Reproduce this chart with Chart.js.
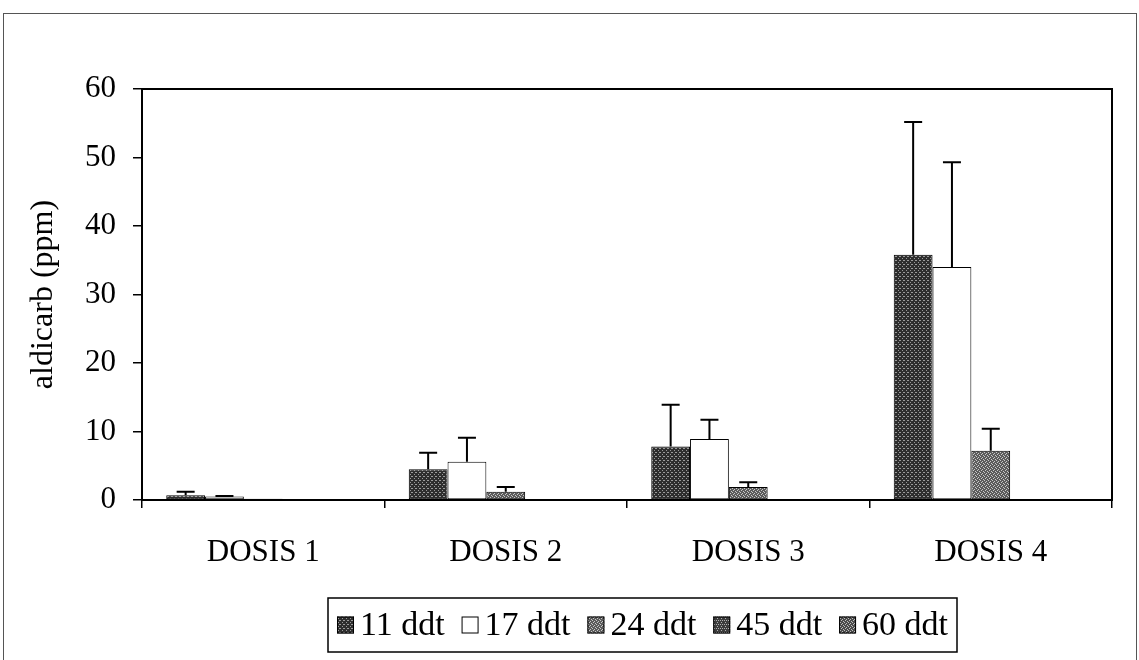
<!DOCTYPE html>
<html>
<head>
<meta charset="utf-8">
<script src="https://cdn.jsdelivr.net/npm/chart.js@4/dist/chart.umd.min.js"></script>
<style>
  html, body { margin: 0; padding: 0; background: #fff; }
  #wrap { width: 1139px; height: 660px; }
</style>
</head>
<body>
<div id="wrap"><canvas id="aldicarbChart" width="1139" height="660"></canvas></div>
<script>
// aldicarb residues per dose, by days after treatment (ddt)
const categories = ['DOSIS 1', 'DOSIS 2', 'DOSIS 3', 'DOSIS 4'];
const seriesNames = ['11 ddt', '17 ddt', '24 ddt', '45 ddt', '60 ddt'];

const ddt11 = [0.7, 4.5, 7.8, 35.8];
const ddt17 = [0.5, 5.6, 8.9, 34.0];
const ddt24 = [0.2, 1.2, 1.9, 7.2];
const ddt45 = [0.05, 0, 0, 0.1];
const ddt60 = [0, 0, 0, 0];

// upper error (value + sd shown as T on top)
const err11 = [0.5, 2.4, 6.1, 19.4];
const err17 = [0.1, 3.5, 2.8, 15.3];
const err24 = [0, 0.7, 0.7, 3.2];
const err45 = [0, 0, 0, 0];
const err60 = [0, 0, 0, 0];

const yTicks = [0, 10, 20, 30, 40, 50, 60];

const serif = "'Liberation Serif', 'Times New Roman', serif";

// small stipple tiles to look like the printed textures
function stipple(base, dot, dots) {
    const c = document.createElement('canvas');
    c.width = 4; c.height = 4;
    const g = c.getContext('2d');
    g.fillStyle = base;
    g.fillRect(0, 0, 4, 4);
    g.fillStyle = dot;
    dots.forEach(p => g.fillRect(p[0], p[1], 1, 1));
    return g.createPattern(c, 'repeat');
}

const fills = [
    stipple('#2e2e2e', '#9a9a9a', [[0, 0], [2, 2], [3, 0]]),
    '#ffffff',
    stipple('#5c5c5c', '#c8c8c8', [[0, 0], [2, 1], [1, 2], [3, 3]]),
    stipple('#3c3c3c', '#b0b0b0', [[0, 0], [2, 0], [1, 2]]),
    stipple('#4a4a4a', '#bdbdbd', [[1, 0], [3, 1], [0, 2], [2, 3]])
];

const values = [ddt11, ddt17, ddt24, ddt45, ddt60];
const errors = [err11, err17, err24, err45, err60];

// outer frame + white background
const framePlugin = {
    id: 'frame',
    beforeDraw(chart) {
        const ctx = chart.ctx;
        ctx.save();
        ctx.fillStyle = '#fff';
        ctx.fillRect(0, 0, chart.width, chart.height);
        ctx.strokeStyle = '#555';
        ctx.lineWidth = 1;
        ctx.strokeRect(3.5, 13.5, 1133, 700);
        ctx.restore();
    },
    afterDraw(chart) {
        // box around plot area
        const a = chart.chartArea;
        const ctx = chart.ctx;
        ctx.save();
        ctx.strokeStyle = '#000';
        ctx.lineWidth = 2;
        ctx.strokeRect(a.left, a.top, a.right - a.left, a.bottom - a.top);
        ctx.restore();
    }
};

// error bars drawn from the value up to value + err
const errorBarPlugin = {
    id: 'errorBars',
    afterDatasetsDraw(chart) {
        const ctx = chart.ctx;
        const y = chart.scales.y;
        ctx.save();
        ctx.strokeStyle = '#000';
        ctx.lineWidth = 2;
        chart.data.datasets.forEach((ds, i) => {
            const meta = chart.getDatasetMeta(i);
            meta.data.forEach((bar, j) => {
                const e = ds.errUp[j];
                if (!e) return;
                const top = y.getPixelForValue(ds.data[j] + e);
                ctx.beginPath();
                ctx.moveTo(bar.x, bar.y);
                ctx.lineTo(bar.x, top);
                ctx.moveTo(bar.x - 9, top);
                ctx.lineTo(bar.x + 9, top);
                ctx.stroke();
            });
        });
        ctx.restore();
    }
};

// boxed legend under the axis
const legendPlugin = {
    id: 'boxLegend',
    afterDraw(chart) {
        const ctx = chart.ctx;
        ctx.save();
        ctx.font = '34px ' + serif;
        ctx.textBaseline = 'middle';
        const mark = 17, gapIn = 6, pad = 9;
        const left = 328, right = 957, top = 598, h = 54;
        const widths = chart.data.datasets.map(ds => ctx.measureText(ds.label).width);
        let used = pad * 2;
        widths.forEach(w => { used += mark + gapIn + w; });
        const gapOut = (right - left - used) / (widths.length - 1);
        ctx.strokeStyle = '#000';
        ctx.lineWidth = 1.5;
        ctx.strokeRect(left, top, right - left, h);
        let x = left + pad;
        const mid = top + h / 2;
        chart.data.datasets.forEach((ds, i) => {
            ctx.fillStyle = ds.backgroundColor;
            ctx.fillRect(x, mid - mark / 2, mark, mark);
            ctx.lineWidth = 1;
            ctx.strokeRect(x + 0.5, mid - mark / 2 + 0.5, mark - 1, mark - 1);
            x += mark + gapIn;
            ctx.fillStyle = '#000';
            ctx.fillText(ds.label, x, mid + 1);
            x += widths[i] + gapOut;
        });
        ctx.restore();
    }
};

const ctx = document.getElementById('aldicarbChart').getContext('2d');
const aldicarbChart = new Chart(ctx, {
    type: 'bar',
    data: {
        labels: categories,
        datasets: seriesNames.map((name, i) => ({
            label: name,
            data: values[i],
            errUp: errors[i],
            backgroundColor: fills[i],
            borderColor: '#000',
            borderWidth: 1,
            borderSkipped: false,
            categoryPercentage: 0.8,
            barPercentage: 1.0
        }))
    },
    options: {
        responsive: false,
        animation: false,
        devicePixelRatio: 1,
        layout: { padding: { left: 0, top: 89, right: 27, bottom: 0 } },
        plugins: {
            legend: { display: false },
            tooltip: { enabled: false }
        },
        scales: {
            x: {
                offset: true,
                grid: {
                    offset: true,
                    drawOnChartArea: false,
                    tickLength: 8,
                    color: '#000',
                    lineWidth: 1.5
                },
                border: { display: true, color: '#000', width: 2 },
                ticks: {
                    color: '#000',
                    font: { family: serif, size: 31 },
                    padding: 26
                },
                afterFit(scale) { scale.height = 160; }
            },
            y: {
                min: 0,
                max: 60,
                afterBuildTicks(scale) { scale.ticks = yTicks.map(v => ({ value: v })); },
                grid: {
                    drawOnChartArea: false,
                    tickLength: 9,
                    color: '#000',
                    lineWidth: 1.5
                },
                border: { display: true, color: '#000', width: 2 },
                ticks: {
                    color: '#000',
                    font: { family: serif, size: 31 },
                    padding: 17
                },
                title: {
                    display: true,
                    text: 'aldicarb (ppm)',
                    color: '#000',
                    font: { family: serif, size: 32 },
                    padding: { top: 24, bottom: 0 }
                },
                afterFit(scale) { scale.width = 142; }
            }
        }
    },
    plugins: [framePlugin, errorBarPlugin, legendPlugin]
});
</script>
</body>
</html>
